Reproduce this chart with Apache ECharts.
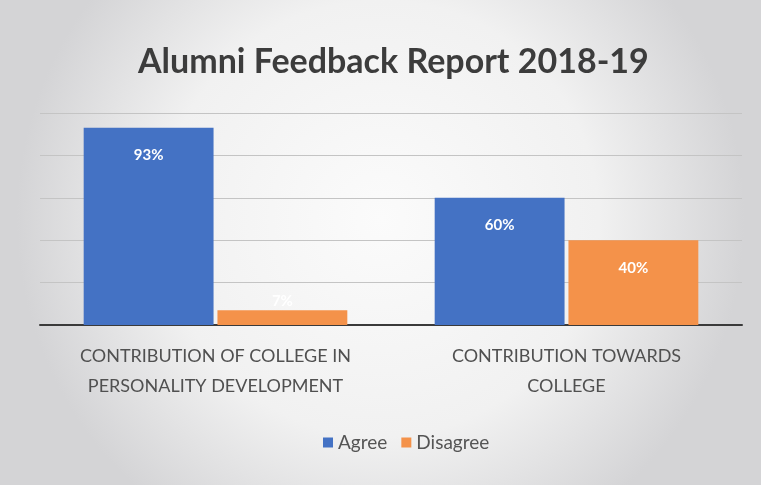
<!DOCTYPE html>
<html><head><meta charset="utf-8">
<script src="https://cdn.jsdelivr.net/npm/echarts@6/dist/echarts.min.js"></script>
<style>html,body{margin:0;padding:0;}#c{width:761px;height:485px;}</style>
</head><body><div id="c"></div>
<script>
const titleText = 'Alumni Feedback Report 2018-19';
const categories = ['CONTRIBUTION OF COLLEGE IN\nPERSONALITY DEVELOPMENT', 'CONTRIBUTION TOWARDS\nCOLLEGE'];
const agree = [93, 60];
const disagree = [7, 40];
const yTicks = [0, 20, 40, 60, 80, 100];

function items(vals) {
  return vals.map(v => ({
    value: v,
    label: v < 10 ? { position: 'top', distance: 2 } : { position: 'insideTop', distance: 20 }
  }));
}

const chart = echarts.init(document.getElementById('c'));
chart.setOption({
  backgroundColor: {
    type: 'radial', x: 0.5, y: 0.45, r: 0.75,
    colorStops: [{ offset: 0, color: '#fbfbfb' }, { offset: 0.6, color: '#f1f1f1' }, { offset: 1, color: '#d4d4d6' }]
  },
  animation: false,
  title: {
    text: titleText, left: 133, top: 40,
    textStyle: { fontFamily: 'Lato', fontSize: 34, fontWeight: 'bold', color: '#3c3c3c' }
  },
  legend: {
    top: 428, left: 318, itemWidth: 10, itemHeight: 10, itemGap: 14, icon: 'rect',
    textStyle: { fontFamily: 'Lato', fontSize: 19, color: '#555' }
  },
  grid: { left: 40, right: 19, top: 113, bottom: 160 },
  xAxis: {
    type: 'category', data: categories,
    axisLine: { lineStyle: { color: '#3a3a3a', width: 2 } },
    axisTick: { show: false },
    axisLabel: { interval: 0, fontFamily: 'Lato', fontSize: 18, color: '#505050', lineHeight: 30, margin: 16 }
  },
  yAxis: {
    type: 'value', min: yTicks[0], max: yTicks[yTicks.length - 1], interval: 20,
    axisLabel: { show: false },
    axisLine: { show: false }, axisTick: { show: false },
    splitLine: { lineStyle: { color: '#c4c4c4', width: 1 } }
  },
  series: [
    {
      name: 'Agree', type: 'bar', data: items(agree), barWidth: '37%', barGap: '3%',
      itemStyle: { color: '#4472c4' },
      label: { show: true, formatter: '{c}%', color: '#fff', fontFamily: 'Lato', fontSize: 15, fontWeight: 'bold' }
    },
    {
      name: 'Disagree', type: 'bar', data: items(disagree), barWidth: '37%',
      itemStyle: { color: '#f4924a' },
      label: { show: true, formatter: '{c}%', color: '#fff', fontFamily: 'Lato', fontSize: 15, fontWeight: 'bold' }
    }
  ]
});
</script></body></html>
